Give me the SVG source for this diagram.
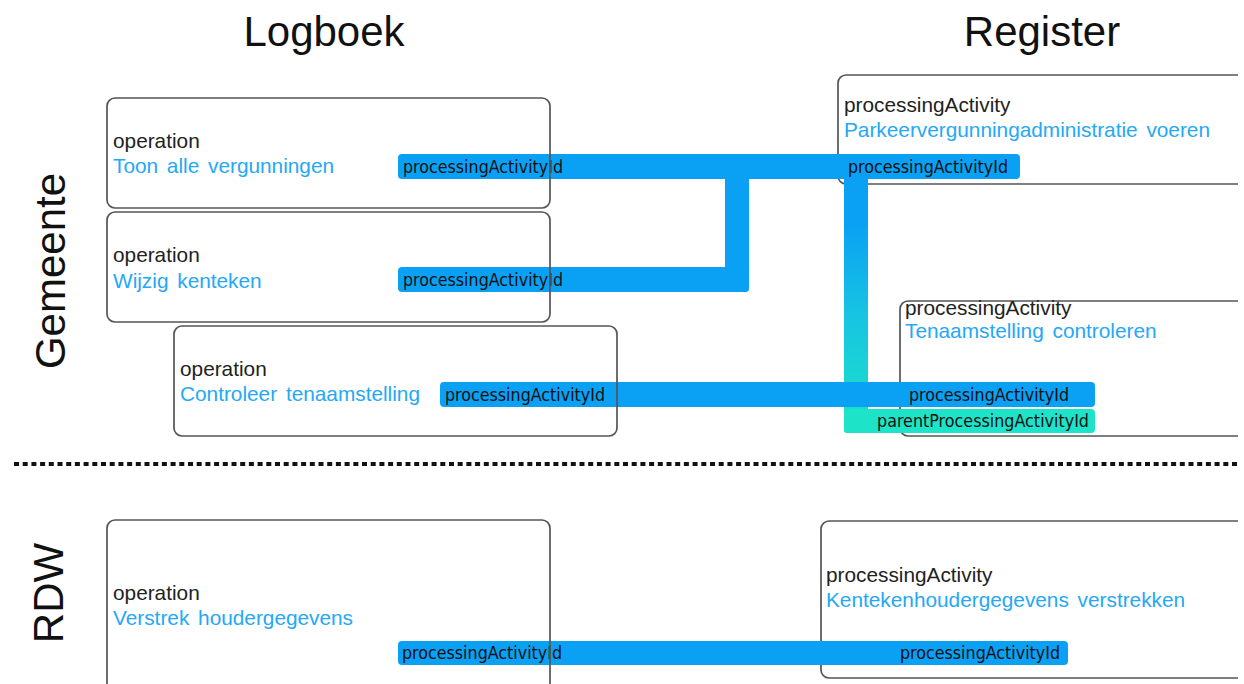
<svg xmlns="http://www.w3.org/2000/svg" width="1244" height="684" viewBox="0 0 1244 684">
  <style>
    .title { font-family: "Liberation Sans", Arial, sans-serif; font-size: 42px; fill: #111; }
    .box { fill: none; stroke: #555; stroke-width: 1.7; }
    .kind { font-family: "Liberation Sans", Arial, sans-serif; font-size: 20.8px; fill: #222; }
    .name { font-family: "Liberation Sans", Arial, sans-serif; font-size: 20.8px; fill: #25a8f5; word-spacing: 3px; }
    .bar { fill: #0aa0f4; }
    .teal { fill: #1de3c8; }
    .lbl { font-family: "DejaVu Sans Condensed", "DejaVu Sans", sans-serif; font-size: 17px; fill: #111; }
  </style>
  <defs>
    <linearGradient id="vgrad" gradientUnits="userSpaceOnUse" x1="0" y1="170" x2="0" y2="433">
      <stop offset="0" stop-color="#0aa0f4"/>
      <stop offset="0.2" stop-color="#0aa0f4"/>
      <stop offset="0.55" stop-color="#17c4e2"/>
      <stop offset="1" stop-color="#1de3c8"/>
    </linearGradient>
    <clipPath id="crop">
      <rect x="0" y="0" width="1238" height="684"/>
    </clipPath>
  </defs>
  <rect width="1244" height="684" fill="#fff"/>

  <!-- headings -->
  <text class="title" x="324" y="46" text-anchor="middle">Logboek</text>
  <text class="title" x="1042" y="46" text-anchor="middle">Register</text>
  <text class="title" transform="translate(65,271) rotate(-90)" text-anchor="middle">Gemeente</text>
  <text class="title" transform="translate(63,593) rotate(-90)" text-anchor="middle">RDW</text>

  <!-- swimlane separator -->
  <line x1="14" y1="464" x2="1238" y2="464" stroke="#111" stroke-width="4" stroke-dasharray="5 3.7"/>

  <!-- register nodes (beneath connectors) -->
  <g id="pa-parkeer">
    <rect class="box" x="838" y="75" width="430" height="109" rx="8" clip-path="url(#crop)"/>
    <text class="kind" x="844" y="112">processingActivity</text>
    <text class="name" x="844" y="137">Parkeervergunningadministratie voeren</text>
  </g>
  <g id="pa-tenaamstelling">
    <rect class="box" x="900" y="301" width="370" height="135" rx="8" clip-path="url(#crop)"/>
    <text class="kind" x="905" y="315">processingActivity</text>
    <text class="name" x="905" y="338">Tenaamstelling controleren</text>
  </g>
  <g id="pa-kenteken">
    <rect class="box" x="821" y="521" width="450" height="157" rx="8" clip-path="url(#crop)"/>
    <text class="kind" x="826" y="582">processingActivity</text>
    <text class="name" x="826" y="607">Kentekenhoudergegevens verstrekken</text>
  </g>

  <!-- connectors -->
  <g id="connectors">
    <rect x="844" y="170" width="24" height="263" rx="3" fill="url(#vgrad)"/>
    <rect class="teal" x="844" y="409" width="251" height="24" rx="4"/>
    <rect class="bar" x="440" y="382" width="655" height="25" rx="4"/>
    <rect class="bar" x="398" y="154" width="622" height="25" rx="4"/>
    <rect class="bar" x="725" y="165" width="24" height="127" rx="4"/>
    <rect class="bar" x="398" y="267" width="351" height="25" rx="4"/>
    <rect class="bar" x="398" y="641" width="670" height="24" rx="4"/>
    <text class="lbl" x="403" y="173" textLength="160" lengthAdjust="spacingAndGlyphs">processingActivityId</text>
    <text class="lbl" x="848" y="173" textLength="160" lengthAdjust="spacingAndGlyphs">processingActivityId</text>
    <text class="lbl" x="403" y="286" textLength="160" lengthAdjust="spacingAndGlyphs">processingActivityId</text>
    <text class="lbl" x="445" y="401" textLength="160" lengthAdjust="spacingAndGlyphs">processingActivityId</text>
    <text class="lbl" x="909" y="401" textLength="160" lengthAdjust="spacingAndGlyphs">processingActivityId</text>
    <text class="lbl" x="877" y="427" textLength="212" lengthAdjust="spacingAndGlyphs">parentProcessingActivityId</text>
    <text class="lbl" x="402" y="659" textLength="160" lengthAdjust="spacingAndGlyphs">processingActivityId</text>
    <text class="lbl" x="900" y="659" textLength="160" lengthAdjust="spacingAndGlyphs">processingActivityId</text>
  </g>

  <!-- logboek nodes -->
  <g id="op-toon">
    <rect class="box" x="107" y="98" width="443" height="110" rx="8"/>
    <text class="kind" x="113" y="148">operation</text>
    <text class="name" x="113" y="173">Toon alle vergunningen</text>
  </g>
  <g id="op-wijzig">
    <rect class="box" x="107" y="212" width="443" height="110" rx="8"/>
    <text class="kind" x="113" y="262">operation</text>
    <text class="name" x="113" y="288">Wijzig kenteken</text>
  </g>
  <g id="op-controleer">
    <rect class="box" x="174" y="326" width="443" height="110" rx="8"/>
    <text class="kind" x="180" y="376">operation</text>
    <text class="name" x="180" y="401">Controleer tenaamstelling</text>
  </g>
  <g id="op-verstrek">
    <rect class="box" x="107" y="520" width="443" height="180" rx="8"/>
    <text class="kind" x="113" y="600">operation</text>
    <text class="name" x="113" y="625">Verstrek houdergegevens</text>
  </g>
</svg>
